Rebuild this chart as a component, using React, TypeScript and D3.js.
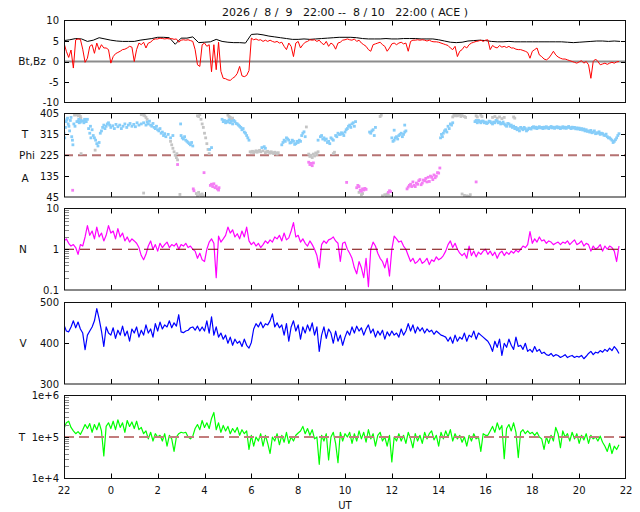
import { useEffect, useRef } from 'react';
import * as d3 from 'd3';

// time axis: hours since 22:00 UT of 8/9
const hourTicks = [0, 2, 4, 6, 8, 10, 12, 14, 16, 18, 20, 22, 24];
const hourLabels = ['22', '0', '2', '4', '6', '8', '10', '12', '14', '16', '18', '20', '22'];

// Bt (nT), one value every 15 min
const btStep = 0.25;
const bt = [
  5.1, 5.3, 5.6, 5.5, 4.9, 5.2, 5.8, 5.5,
  5.2, 5.0, 4.9, 4.9, 4.9, 5.2, 5.4, 5.6,
  5.9, 5.9, 5.8, 4.2, 5.7, 5.7, 6.0, 4.6,
  4.7, 4.8, 5.4, 4.9, 4.7, 4.6, 4.6, 4.5,
  6.6, 6.7, 6.5, 6.2, 6.0, 5.8, 5.6, 5.4,
  5.4, 5.5, 5.4, 5.5, 5.6, 5.7, 5.8, 5.9,
  5.9, 5.9, 5.8, 5.6, 5.5, 5.5, 5.5, 5.6,
  5.5, 5.5, 5.6, 5.6, 5.6, 5.5, 5.5, 5.5,
  5.3, 5.0, 4.7, 4.6, 4.7, 5.0, 5.1, 5.2,
  5.1, 4.9, 4.8, 4.8, 4.9, 4.8, 4.8, 4.8,
  4.8, 4.8, 4.8, 4.8, 4.8, 4.8, 4.7, 4.6,
  4.7, 4.8, 4.9, 5.0, 5.0, 4.9, 5.0, 4.9,
];

// Bz (nT), one value every 6 min
const bzStep = 0.1;
const bz = [
  4.5, 2.5, 1.0, 2.8, -1.6, 5.3, 5.5, 5.4, 3.0, -0.2,
  0.8, 3.7, 4.1, 2.0, 4.5, 2.9, 4.1, 3.3, 3.3, 2.9,
  -0.4, 1.2, 1.9, 2.2, 2.5, 2.9, 3.0, 3.3, 3.7, 3.5,
  0.0, 2.9, 4.5, 4.1, 4.7, 3.3, 4.5, 4.7, 5.3, 5.5,
  5.5, 5.7, 5.6, 5.5, 5.6, 5.5, 5.6, 5.4, 5.5, 4.7,
  5.2, 5.3, 5.2, 5.3, 5.1, 4.9, 2.9, -0.8, -1.2, 4.1,
  4.5, 3.7, 4.1, -2.5, 4.1, -2.0, 4.7, -2.4, -4.1, -4.2,
  -4.5, -4.6, -4.1, -3.7, -2.9, -1.2, -3.5, -3.7, -3.4, -2.2,
  5.7, 5.3, 5.5, 5.2, 5.3, 4.9, 5.2, 4.9, 5.2, 4.9,
  4.7, 4.9, 4.5, 4.7, 3.7, 2.9, 4.5, 3.7, 1.2, 4.5,
  4.9, 3.3, 4.1, 4.7, 4.9, 5.3, 5.2, 5.3, 4.9, 5.2,
  4.5, 4.1, 4.9, 3.7, 4.5, 4.1, 3.0, 4.5, 4.7, 5.2,
  5.3, 5.5, 5.3, 5.2, 5.5, 4.9, 5.2, 4.5, 4.1, 3.7,
  2.9, 2.5, 4.1, 4.3, 4.5, 4.7, 4.1, 3.7, 2.5, 3.3,
  4.3, 4.5, 4.1, 4.5, 4.7, 4.3, 4.5, 2.5, 4.9, 5.2,
  5.2, 5.3, 5.2, 5.3, 5.2, 5.0, 5.2, 4.9, 4.8, 4.8,
  4.7, 4.5, 4.3, 4.1, 3.9, 3.3, 2.9, 3.7, 1.2, 2.5,
  2.9, 3.7, 3.3, 4.1, 4.5, 4.7, 4.9, 5.0, 5.2, 4.9,
  5.2, 5.3, 2.9, 3.9, 3.5, 3.3, 3.9, 3.5, 3.7, 3.4,
  3.7, 3.3, 3.3, 3.0, 2.9, 2.9, 2.7, 2.5, 2.2, 0.8,
  2.5, 2.9, 3.3, 1.6, 1.2, 0.6, 0.4, 0.8, 1.6, 2.5,
  1.6, 1.1, 0.8, 0.6, 0.6, 0.4, 0.2, 0.0, -0.2, -0.4,
  -0.1, 0.2, -0.4, 0.0, -0.8, -4.1, 0.0, 0.6, 0.0, -0.8,
  -0.6, -0.4, -0.7, -0.4, -0.2, -0.4, -0.1, 0.0,
];

// Phi angle (deg) points [hour, deg], three colour classes
const phiBlue: [number, number][] = [
  [0.0, 320], [0.03, 300], [0.06, 345], [0.09, 370], [0.12, 378], [0.15, 385], [0.18, 360], [0.21, 350],
  [0.24, 330], [0.27, 375], [0.3, 388], [0.33, 305], [0.36, 290], [0.38, 270], [0.42, 360], [0.47, 350],
  [0.55, 370], [0.6, 372], [0.63, 380], [0.65, 365], [0.7, 368], [0.73, 375], [0.8, 372], [0.85, 365],
  [0.88, 380], [0.9, 375], [0.95, 370], [1.0, 380],
  [1.05, 340], [1.1, 320], [1.13, 350], [1.15, 300], [1.2, 335], [1.25, 310], [1.3, 300], [1.35, 290],
  [1.4, 275], [1.45, 265], [1.5, 280],
  [1.55, 320], [1.6, 330], [1.65, 345], [1.7, 355], [1.75, 340], [1.8, 350], [1.85, 360], [1.9, 365], [1.95, 355],
  [2.0, 345], [2.08, 352], [2.15, 340], [2.22, 358], [2.3, 348], [2.38, 355], [2.45, 340], [2.52, 350],
  [2.6, 360], [2.68, 345], [2.75, 355], [2.82, 362], [2.9, 350], [2.98, 358], [3.05, 348], [3.12, 365], [3.2, 355],
  [3.3, 360], [3.4, 365], [3.5, 355],
  [3.55, 368], [3.6, 360], [3.65, 372], [3.7, 355], [3.75, 350], [3.8, 362], [3.85, 345], [3.9, 340],
  [3.95, 350], [4.0, 335], [4.05, 330], [4.1, 340], [4.15, 320], [4.2, 325], [4.25, 310], [4.3, 318], [4.35, 305],
  [4.45, 315], [4.55, 300], [4.65, 310],
  [4.98, 360], [5.0, 310], [5.05, 300], [5.1, 295], [5.15, 305], [5.2, 290], [5.25, 285], [5.3, 280],
  [5.35, 275], [5.4, 270], [5.45, 280], [5.5, 265],
  [6.22, 250], [6.3, 258],
  [6.75, 380], [6.8, 370], [6.85, 375], [6.9, 365], [6.95, 372], [7.0, 368], [7.05, 378], [7.1, 365], [7.15, 372], [7.2, 360],
  [7.25, 375], [7.3, 370], [7.35, 362], [7.4, 360], [7.45, 355], [7.5, 350], [7.55, 345], [7.6, 335],
  [7.65, 340], [7.7, 325], [7.75, 320], [7.8, 310], [7.85, 300], [7.9, 290],
  [8.45, 258], [8.55, 262], [8.6, 255],
  [9.3, 270], [9.35, 280], [9.4, 290], [9.45, 285], [9.5, 300], [9.55, 295], [9.6, 290], [9.65, 278],
  [9.7, 280], [9.75, 290], [9.8, 285], [9.85, 272], [9.9, 275], [9.95, 285], [10.0, 280], [10.05, 290], [10.1, 285],
  [10.15, 310], [10.2, 320], [10.25, 326], [10.3, 305], [10.85, 290],
  [10.95, 305], [11.0, 310], [11.05, 295], [11.1, 300], [11.15, 290], [11.2, 295], [11.25, 280], [11.3, 285],
  [11.35, 275], [11.4, 300], [11.45, 295], [11.5, 290],
  [11.6, 310], [11.65, 305], [11.7, 320], [11.75, 315], [11.8, 315], [11.85, 322], [11.9, 318], [11.95, 310], [12.0, 325],
  [12.05, 335], [12.1, 340], [12.15, 350], [12.2, 355], [12.25, 345], [12.3, 360], [12.35, 365], [12.4, 350], [12.45, 370],
  [13.05, 325], [13.1, 320], [13.15, 330], [13.2, 335], [13.25, 310], [13.3, 345],
  [14.0, 300], [14.05, 285], [14.1, 290], [14.15, 300], [14.2, 305], [14.25, 295], [14.3, 310], [14.35, 315],
  [14.4, 320], [14.45, 305], [14.5, 315], [14.55, 325], [14.6, 330], [14.1, 333], [14.55, 355],
  [16.08, 300], [16.12, 315], [16.16, 305], [16.2, 320], [16.25, 330], [16.3, 335], [16.35, 325], [16.4, 350],
  [16.45, 340], [16.5, 360], [16.55, 355], [16.6, 365],
  [17.55, 370], [17.6, 375], [17.65, 365], [17.7, 375], [17.75, 370], [17.8, 365], [17.85, 372], [17.9, 372],
  [17.95, 365], [18.0, 368],
  [18.05, 362], [18.1, 365], [18.15, 372], [18.2, 370], [18.25, 365], [18.3, 360], [18.35, 368], [18.4, 365],
  [18.45, 375], [18.5, 372], [18.55, 365], [18.6, 368], [18.65, 360], [18.7, 362], [18.75, 368], [18.8, 360], [18.85, 355],
  [18.9, 350], [18.95, 362], [19.0, 360], [19.05, 350], [19.1, 355], [19.15, 345], [19.2, 350], [19.25, 340],
  [19.3, 345], [19.35, 335], [19.4, 340], [19.45, 330], [19.5, 345], [19.55, 340], [19.6, 335], [19.65, 345],
  [19.7, 340], [19.75, 330], [19.8, 335], [19.85, 342], [19.9, 340], [19.95, 338], [20.0, 345],
  [20.05, 348], [20.1, 342], [20.15, 346], [20.2, 340], [20.25, 344], [20.3, 348], [20.35, 343], [20.4, 345],
  [20.45, 340], [20.5, 346], [20.55, 342], [20.6, 348], [20.65, 344], [20.7, 340], [20.75, 345], [20.8, 349],
  [20.85, 343], [20.9, 346], [20.95, 341], [21.0, 345], [21.05, 348], [21.1, 343], [21.15, 346], [21.2, 340],
  [21.25, 344], [21.3, 348], [21.35, 342], [21.4, 346], [21.45, 341], [21.5, 345], [21.55, 349], [21.6, 344],
  [21.65, 340], [21.7, 346], [21.75, 342], [21.8, 345], [21.85, 339], [21.9, 343], [21.95, 338], [22.0, 342],
  [22.05, 336], [22.1, 340], [22.15, 334], [22.2, 338], [22.25, 330], [22.3, 335],
  [22.35, 328], [22.4, 330], [22.45, 325], [22.5, 332], [22.55, 322], [22.6, 325], [22.65, 330], [22.7, 318],
  [22.75, 322], [22.8, 320], [22.85, 326], [22.9, 315], [22.95, 320], [23.0, 318], [23.05, 312], [23.1, 310],
  [23.15, 316], [23.2, 305], [23.25, 300], [23.3, 300], [23.35, 295], [23.4, 290], [23.45, 280], [23.5, 285],
  [23.55, 292], [23.6, 300], [23.65, 310], [23.7, 318],
];

const phiGray: [number, number][] = [
  [0.45, 398], [0.5, 402], [0.55, 400], [0.6, 395], [0.65, 398], [0.7, 392], [0.72, 385], [0.73, 232], [1.33, 247],
  [3.3, 400], [3.35, 405], [3.4, 398], [3.45, 395], [3.5, 388], [3.55, 380],
  [4.55, 285], [4.6, 270], [4.65, 255], [4.7, 240], [4.75, 225], [4.8, 215], [4.85, 205], [4.82, 232],
  [5.7, 395], [5.75, 392], [5.8, 400], [5.85, 380], [5.9, 360], [5.95, 345], [6.0, 320], [6.05, 300],
  [6.1, 275], [6.15, 250], [6.2, 232],
  [7.0, 398], [7.05, 392], [7.1, 388], [7.15, 380], [7.2, 385],
  [7.95, 240], [8.0, 238], [8.05, 242], [8.1, 236], [8.15, 240], [8.2, 244], [8.25, 238], [8.3, 242],
  [8.35, 246], [8.4, 240], [8.5, 244], [8.6, 236], [8.65, 240], [8.7, 242], [8.75, 238], [8.8, 234],
  [8.85, 240], [8.9, 236], [8.95, 232], [9.0, 238], [9.05, 235], [9.1, 230], [9.15, 236],
  [3.4, 62], [4.95, 56], [5.65, 60], [5.7, 50], [5.75, 65], [5.8, 55], [5.85, 48], [5.9, 58], [5.95, 50],
  [10.35, 347], [10.45, 230], [10.5, 220], [10.55, 225], [10.6, 215], [10.65, 230], [10.7, 222], [10.75, 235],
  [10.8, 228], [10.85, 240],
  [11.5, 232], [11.55, 238], [12.6, 65], [12.7, 55], [12.75, 60], [13.5, 392], [13.55, 398],
  [13.6, 50], [13.7, 55], [13.75, 48], [13.8, 58], [13.85, 52], [13.95, 48],
  [16.6, 390], [16.65, 398], [16.7, 395], [16.75, 402], [16.8, 395], [16.85, 400], [16.9, 398], [16.95, 392],
  [17.0, 396], [17.1, 392], [17.15, 388],
  [17.0, 58], [17.1, 52], [17.2, 50], [17.3, 48], [17.35, 55],
  [17.6, 395], [17.65, 390], [17.8, 398], [17.85, 392],
  [18.3, 388], [18.4, 392], [18.5, 385], [18.6, 390], [18.7, 383], [18.8, 388], [19.2, 390], [19.25, 385],
];

const phiPink: [number, number][] = [
  [0.37, 74], [4.85, 185], [5.98, 150], [5.52, 80], [5.55, 72],
  [6.25, 95], [6.3, 100], [6.35, 90], [6.4, 102], [6.45, 85], [6.5, 92], [6.55, 80], [6.6, 75], [6.62, 85],
  [10.45, 195], [10.5, 185], [10.55, 190], [10.6, 180], [10.65, 192],
  [12.07, 108], [12.5, 85], [12.55, 95], [12.6, 90], [12.65, 75], [12.7, 70], [12.75, 80], [12.8, 75],
  [12.85, 82], [12.9, 78], [13.85, 65], [13.9, 72], [13.95, 68],
  [14.65, 80], [14.7, 88], [14.75, 95], [14.8, 100], [14.85, 90], [14.9, 110], [14.95, 95], [15.0, 90],
  [15.05, 105], [15.1, 100], [15.15, 115], [15.2, 120], [15.25, 98], [15.3, 105], [15.35, 118], [15.4, 115],
  [15.45, 125], [15.5, 110], [15.55, 130], [15.6, 112], [15.65, 135], [15.7, 130], [15.75, 120], [15.8, 140],
  [15.85, 128], [15.9, 135], [15.95, 150], [16.0, 148], [16.05, 170], [17.6, 110],
];

// proton density (/cc), every 6 min
const densStep = 0.1;
const dens = [
  1.6, 1.8, 1.4, 1.2, 1.3, 1.1, 0.75, 1.3, 1.2, 2.0,
  3.8, 2.2, 2.8, 1.8, 3.5, 2.0, 2.5, 1.6, 2.2, 3.8,
  2.5, 2.8, 1.8, 3.2, 2.0, 2.5, 1.6, 2.0, 1.5, 1.8,
  1.6, 1.4, 1.1, 0.7, 0.55, 0.75, 1.2, 1.6, 1.0, 1.3,
  0.9, 1.4, 1.1, 1.3, 1.5, 1.1, 1.3, 1.2, 1.4, 1.0,
  1.3, 1.2, 1.4, 1.1, 1.2, 1.0, 0.9, 0.6, 0.8, 0.55,
  0.5, 1.0, 1.5, 1.8, 1.4, 0.2, 2.1, 1.5, 1.8, 2.2,
  3.5, 2.5, 3.0, 2.0, 2.4, 1.8, 2.8, 2.0, 3.5, 1.6,
  1.3, 1.5, 1.2, 1.4, 1.1, 1.3, 1.6, 1.4, 1.7, 1.5,
  2.0, 1.8, 2.2, 1.6, 2.5, 1.7, 1.9, 2.8, 4.5, 2.0,
  2.2, 1.5, 1.8, 1.4, 1.2, 1.6, 1.3, 1.0, 0.7, 0.35,
  1.3, 1.6, 1.4, 1.7, 1.8, 2.0, 1.6, 1.4, 0.5, 1.4,
  1.5, 1.0, 0.8, 0.6, 0.35, 0.25, 0.5, 0.35, 0.2, 0.6,
  0.12, 1.0, 1.5, 1.2, 0.8, 0.6, 0.5, 0.35, 0.6, 0.22,
  1.0, 2.1, 1.8, 1.5, 1.6, 1.2, 1.0, 0.7, 0.5, 0.6,
  0.45, 0.5, 0.6, 0.45, 0.5, 0.6, 0.42, 0.55, 0.5, 0.65,
  0.55, 0.6, 0.7, 0.9, 1.3, 1.6, 1.1, 1.4, 1.0, 0.8,
  0.7, 0.8, 0.6, 1.2, 0.7, 0.9, 0.65, 0.85, 0.75, 0.9,
  1.0, 0.75, 0.9, 0.7, 0.85, 0.6, 0.8, 0.9, 0.7, 0.85,
  0.75, 0.9, 0.8, 0.95, 0.85, 1.0, 1.2, 1.1, 1.3, 2.7,
  1.4, 1.8, 1.5, 2.0, 1.6, 1.7, 1.4, 1.6, 1.5, 1.3,
  1.4, 1.5, 1.3, 1.5, 1.4, 1.6, 1.3, 1.5, 1.7, 1.3,
  1.4, 1.6, 1.2, 1.4, 1.3, 0.9, 1.2, 1.0, 1.1, 1.3,
  0.9, 1.2, 1.0, 1.2, 1.1, 0.9, 0.5, 1.2,
];

// bulk speed (km/s), every 6 min
const speedStep = 0.1;
const speed = [
  445, 430, 428, 440, 455, 438, 452, 435, 425, 384,
  420, 430, 440, 455, 485, 460, 430, 392, 440, 425,
  420, 438, 412, 432, 420, 442, 418, 430, 405, 435,
  425, 440, 415, 432, 420, 445, 425, 435, 415, 448,
  430, 452, 435, 445, 440, 455, 438, 450, 442, 470,
  428, 426, 430, 432, 438, 440, 432, 442, 430, 440,
  430, 455, 425, 465, 420, 440, 415, 425, 410, 420,
  400, 415, 395, 410, 400, 405, 392, 410, 395, 388,
  402, 435, 448, 440, 452, 438, 448, 445, 455, 472,
  440, 450, 438, 445, 420, 448, 405, 440, 455, 430,
  445, 410, 440, 425, 445, 430, 450, 420, 440, 380,
  420, 440, 412, 435, 425, 400, 430, 405, 420, 395,
  415, 430, 420, 440, 425, 442, 430, 438, 420, 435,
  445, 425, 435, 415, 430, 420, 432, 410, 428, 418,
  430, 420, 425, 415, 435, 420, 430, 448, 430, 445,
  425, 440, 430, 438, 425, 435, 428, 432, 422, 430,
  425, 420, 418, 415, 405, 415, 400, 420, 405, 415,
  410, 425, 405, 420, 415, 430, 410, 425, 420, 415,
  410, 405, 395, 380, 405, 390, 410, 370, 400, 390,
  410, 395, 385, 415, 392, 395, 385, 400, 380, 385,
  378, 392, 380, 385, 375, 378, 372, 370, 375, 368,
  372, 370, 365, 368, 372, 365, 368, 370, 365, 368,
  366, 370, 362, 368, 375, 380, 372, 378, 376, 382,
  378, 385, 380, 388, 382, 392, 385, 375,
];

// ion temperature (units of 1e5 K), every 6 min
const tempStep = 0.1;
const temp = [
  1.6, 2.2, 2.4, 1.7, 1.4, 1.2, 1.35, 1.15, 1.5, 2.0,
  1.6, 2.1, 1.3, 2.0, 1.5, 2.2, 1.4, 0.35, 1.8, 2.2,
  1.6, 2.4, 1.5, 2.6, 1.7, 2.2, 1.3, 2.5, 1.8, 2.3,
  1.6, 2.4, 1.5, 1.7, 1.2, 1.4, 0.9, 1.3, 0.8, 1.2,
  1.0, 1.1, 0.8, 1.2, 0.6, 1.1, 0.9, 0.45, 1.0, 1.2,
  1.3, 1.25, 1.3, 1.0, 0.9, 1.05, 1.6, 2.0, 1.5, 2.5,
  1.7, 2.2, 1.6, 2.8, 3.9, 1.5, 2.2, 1.3, 1.9, 1.4,
  1.8, 1.2, 1.6, 1.3, 1.7, 1.1, 1.5, 1.2, 1.4, 0.5,
  1.1, 0.6, 1.0, 0.8, 1.2, 0.6, 1.1, 0.7, 0.4, 1.0,
  0.8, 1.2, 0.65, 1.1, 0.75, 1.3, 0.7, 1.0, 0.8, 1.1,
  1.25, 1.4, 1.8, 1.2, 1.6, 1.1, 1.5, 0.9, 1.0, 0.22,
  1.1, 0.8, 1.2, 0.28, 1.0, 1.3, 0.7, 0.24, 1.3, 0.8,
  1.2, 1.0, 1.3, 0.7, 1.2, 0.8, 1.4, 0.9, 1.3, 0.75,
  1.5, 0.9, 1.2, 0.6, 1.1, 1.3, 0.8, 1.0, 0.6, 1.1,
  0.25, 1.0, 0.8, 1.2, 0.8, 1.1, 0.7, 1.3, 0.9, 0.55,
  1.2, 0.8, 1.1, 0.7, 1.3, 0.9, 1.2, 1.4, 0.85, 1.1,
  0.6, 1.3, 0.9, 1.4, 1.0, 1.5, 0.8, 1.2, 0.9, 1.1,
  0.75, 1.0, 0.6, 1.1, 0.8, 1.2, 0.9, 1.0, 0.45, 1.2,
  1.1, 1.1, 1.4, 1.8, 1.3, 2.2, 1.5, 1.9, 0.3, 1.6,
  2.0, 1.4, 2.2, 1.3, 0.32, 1.3, 1.5, 1.2, 1.4, 1.2,
  1.3, 1.1, 1.3, 1.0, 0.9, 0.5, 1.0, 0.7, 1.1, 0.8,
  1.7, 1.2, 0.55, 1.4, 1.0, 1.2, 0.8, 1.3, 0.9, 1.2,
  0.7, 1.1, 0.85, 1.2, 0.7, 1.1, 0.9, 1.0, 0.8, 1.05,
  0.75, 0.6, 0.45, 0.7, 0.4, 0.6, 0.5, 0.65,
];

const bTicks = [-10, -5, 0, 5, 10];
const phiTicks = [45, 135, 225, 315, 405];
const nTicks = [0.1, 1, 10];
const vTicks = [300, 400, 500];
const tTicks = [1e4, 1e5, 1e6];

const FONT = "'DejaVu Sans', sans-serif";

export default function App() {
  const svgRef = useRef<SVGSVGElement>(null);

  useEffect(() => {
    if (!svgRef.current) return;
    const svg = d3.select(svgRef.current);
    svg.selectAll('*').remove();

    const left = 64;
    const right = 626;
    const x = d3.scaleLinear().domain([0, 24]).range([left, right]);

    const toPairs = (vals: number[], step: number) =>
      vals.map((v, i) => [i * step, v] as [number, number]);

    // frame, ticks and tick labels of one panel; returns a clipped group for the data
    const panel = (
      id: string,
      top: number,
      bottom: number,
      y: any,
      ticks: number[],
      fmt: (d: number) => string,
      logMinor: boolean
    ) => {
      svg.append('clipPath').attr('id', id)
        .append('rect').attr('x', left).attr('y', top).attr('width', right - left).attr('height', bottom - top);
      const plot = svg.append('g').attr('clip-path', `url(#${id})`);
      const axis = svg.append('g');

      if (logMinor) {
        const [d0, d1] = y.domain();
        for (let e = Math.round(Math.log10(d0)); e < Math.round(Math.log10(d1)); e++) {
          for (let m = 2; m <= 9; m++) {
            const yy = Math.round(y(m * Math.pow(10, e))) + 0.5;
            axis.append('line').attr('x1', left).attr('x2', left + 5).attr('y1', yy).attr('y2', yy)
              .attr('stroke', '#888').attr('stroke-width', 1);
          }
        }
      }

      ticks.forEach((t, i) => {
        const yy = Math.round(y(t)) + 0.5;
        if (i > 0 && i < ticks.length - 1) {
          axis.append('line').attr('x1', left).attr('x2', left + 5).attr('y1', yy).attr('y2', yy)
            .attr('stroke', '#000');
          axis.append('line').attr('x1', right).attr('x2', right - 5).attr('y1', yy).attr('y2', yy)
            .attr('stroke', '#000');
        }
        axis.append('text')
          .attr('x', left - 5).attr('y', y(t)).attr('dy', '0.36em')
          .attr('text-anchor', 'end')
          .attr('font-family', FONT).attr('font-size', 10).attr('fill', '#111')
          .text(fmt(t));
      });

      hourTicks.slice(1, -1).forEach((h) => {
        const xx = Math.round(x(h)) + 0.5;
        axis.append('line').attr('x1', xx).attr('x2', xx).attr('y1', bottom).attr('y2', bottom - 5).attr('stroke', '#000');
        axis.append('line').attr('x1', xx).attr('x2', xx).attr('y1', top).attr('y2', top + 5).attr('stroke', '#000');
      });

      axis.append('rect')
        .attr('x', left + 0.5).attr('y', top).attr('width', right - left - 1).attr('height', bottom - top)
        .attr('fill', 'none').attr('stroke', '#111').attr('stroke-width', 1);

      return plot;
    };

    const sideLabel = (text: string, cx: number, cy: number) => {
      svg.append('text')
        .attr('x', cx).attr('y', cy).attr('dy', '0.36em').attr('text-anchor', 'middle')
        .attr('font-family', FONT).attr('font-size', 10.5).attr('fill', '#111')
        .text(text);
    };

    const drawLine = (g: any, data: [number, number][], y: any, color: string, width = 1) => {
      const line = d3.line<[number, number]>()
        .x((d) => x(d[0]))
        .y((d) => y(d[1]));
      g.append('path').datum(data).attr('d', line)
        .attr('fill', 'none').attr('stroke', color).attr('stroke-width', width)
        .attr('stroke-linejoin', 'round');
    };

    const hLine = (g: any, yy: number, color: string, width: number, dash?: string) => {
      const l = g.append('line').attr('x1', left).attr('x2', right).attr('y1', yy).attr('y2', yy)
        .attr('stroke', color).attr('stroke-width', width);
      if (dash) l.attr('stroke-dasharray', dash);
    };

    // Panel 1: Bt, Bz
    const yB = d3.scaleLinear().domain([-10, 10]).range([102.5, 20.5]);
    const p1 = panel('c1', 20.5, 102.5, yB, bTicks, (d) => String(d), false);
    hLine(p1, yB(0), '#8c8c8c', 2);
    drawLine(p1, toPairs(bt, btStep), yB, '#000');
    drawLine(p1, toPairs(bz, bzStep), yB, '#ff0000');
    sideLabel('Bt,Bz', 32, yB(0));

    // Panel 2: Phi
    const yP = d3.scaleLinear().domain([45, 405]).range([197, 113.5]);
    const p2 = panel('c2', 113.5, 197, yP, phiTicks, (d) => String(d), false);
    hLine(p2, yP(225), '#b57272', 2, '9,5');
    const dots = (data: [number, number][], color: string) => {
      p2.append('g').selectAll('rect').data(data).join('rect')
        .attr('x', (d: [number, number]) => x(d[0]) - 1.4)
        .attr('y', (d: [number, number]) => yP(d[1]) - 1.4)
        .attr('width', 2.8).attr('height', 2.8)
        .attr('fill', color);
    };
    dots(phiGray, '#c4c4c4');
    dots(phiBlue, '#86cdf9');
    dots(phiPink, '#f47ef4');
    sideLabel('T', 25, yP(315));
    sideLabel('Phi', 27, yP(225));
    sideLabel('A', 25, yP(124));

    // Panel 3: N
    const yN = d3.scaleLog().domain([0.1, 10]).range([290, 208.5]);
    const p3 = panel('c3', 208.5, 290, yN, nTicks, (d) => String(d), true);
    drawLine(p3, toPairs(dens, densStep), yN, '#ff00ff', 1.2);
    hLine(p3, yN(1), '#7a0000', 1.2, '10,6');
    sideLabel('N', 23, yN(1));

    // Panel 4: V
    const yV = d3.scaleLinear().domain([300, 500]).range([384, 302.5]);
    const p4 = panel('c4', 302.5, 384, yV, vTicks, (d) => String(d), false);
    drawLine(p4, toPairs(speed, speedStep), yV, '#0000ff', 1.2);
    sideLabel('V', 23, yV(400));

    // Panel 5: T
    const yT = d3.scaleLog().domain([1e4, 1e6]).range([478.5, 395.5]);
    const p5 = panel('c5', 395.5, 478.5, yT, tTicks, (d) => `1e+${Math.round(Math.log10(d))}`, true);
    drawLine(p5, toPairs(temp, tempStep).map(([t, v]) => [t, v * 1e5] as [number, number]), yT, '#00ff00', 1.2);
    hLine(p5, yT(1e5), '#c27c7c', 2, '10,5');
    sideLabel('T', 22, yT(1e5));

    // time axis labels
    svg.append('g').selectAll('text').data(hourTicks).join('text')
      .attr('x', (d: number) => x(d)).attr('y', 494)
      .attr('text-anchor', 'middle')
      .attr('font-family', FONT).attr('font-size', 10).attr('fill', '#111')
      .text((_: number, i: number) => hourLabels[i]);
    svg.append('text')
      .attr('x', 345).attr('y', 509).attr('text-anchor', 'middle')
      .attr('font-family', FONT).attr('font-size', 10).attr('fill', '#111')
      .text('UT');

    // title
    svg.append('text')
      .attr('x', 345).attr('y', 16).attr('text-anchor', 'middle')
      .attr('font-family', FONT).attr('font-size', 11).attr('fill', '#111')
      .attr('xml:space', 'preserve').style('white-space', 'pre')
      .text('2026 /  8 /  9   22:00 --  8 / 10   22:00 ( ACE )');
  }, []);

  return (
    <svg
      ref={svgRef}
      width={640}
      height={512}
      style={{ position: 'absolute', left: 0, top: 0, background: '#fff' }}
    />
  );
}
